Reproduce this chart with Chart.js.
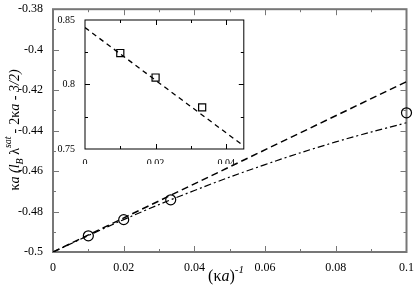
<!DOCTYPE html>
<html>
<head>
<meta charset="utf-8">
<script src="https://cdn.jsdelivr.net/npm/chart.js@4"></script>
<style>
  body { margin: 0; background: #fff; }
  #wrap { position: relative; width: 415px; height: 291px; }
  #main { position: absolute; left: 0; top: 0; }
  #inset { position: absolute; left: 55px; top: 12px; }
</style>
</head>
<body>
<div id="wrap">
  <canvas id="main" width="415" height="291"></canvas>
  <canvas id="inset" width="195" height="152"></canvas>
</div>
<script>
// main plot data
const circleX = [0.01, 0.02, 0.0333, 0.1];
const circleY = [-0.492, -0.484, -0.4742, -0.4312];
const dashX = [0, 0.1];
const dashY = [-0.5, -0.4158];
const dashDotX = [0, 0.02, 0.04, 0.06, 0.08, 0.1];
const dashDotY = [-0.5, -0.4840, -0.4696, -0.4568, -0.4456, -0.4361];
const xTicks = [0, 0.02, 0.04, 0.06, 0.08, 0.1];
const xTickLabels = ["0", "0.02", "0.04", "0.06", "0.08", "0.1"];
const yTicks = [-0.5, -0.48, -0.46, -0.44, -0.42, -0.4, -0.38];
const yTickLabels = ["-0.5", "-0.48", "-0.46", "-0.44", "-0.42", "-0.4", "-0.38"];

// inset data
const squareX = [0.01, 0.02, 0.0332];
const squareY = [0.8244, 0.8054, 0.7823];
const insetLineX = [0, 0.045];
const insetLineY = [0.8441, 0.7523];
const insetXTicks = [0, 0.02, 0.04];
const insetXTickLabels = ["0", "0.02", "0.04"];
const insetYTicks = [0.75, 0.8, 0.85];
const insetYTickLabels = ["0.75", "0.8", "0.85"];

const serif = "'Liberation Serif', 'DejaVu Serif', serif";

function pts(xs, ys) {
    return xs.map((x, i) => ({ x: x, y: ys[i] }));
}

// draw a run of text pieces (italic, sub/superscripts) centered on x
function drawRich(ctx, parts, x, y) {
    let total = 0;
    for (const p of parts) {
        ctx.font = (p.italic ? "italic " : "") + p.size + "px " + serif;
        p.w = ctx.measureText(p.t).width + (p.gap || 0);
        total += p.w;
    }
    let cx = x - total / 2;
    ctx.textBaseline = "alphabetic";
    ctx.textAlign = "left";
    for (const p of parts) {
        ctx.font = (p.italic ? "italic " : "") + p.size + "px " + serif;
        ctx.fillText(p.t, cx, y + (p.dy || 0));
        cx += p.w;
    }
}

// frame plus inward ticks on all four sides
function frameTicks(opts) {
    return {
        id: "frameTicks",
        beforeDatasetsDraw(chart) {
            const ctx = chart.ctx;
            const a = chart.chartArea;
            const xs = chart.scales.x, ys = chart.scales.y;
            ctx.save();
            if (opts.fill) {
                ctx.fillStyle = "#fff";
                ctx.fillRect(a.left, a.top, a.right - a.left, a.bottom - a.top);
            }
            ctx.strokeStyle = opts.color;
            ctx.lineWidth = opts.width;
            ctx.strokeRect(a.left, a.top, a.right - a.left, a.bottom - a.top);
            ctx.lineWidth = 1;
            ctx.beginPath();
            const n = Math.round((xs.max - xs.min) / opts.xMinor);
            for (let i = 0; i <= n; i++) {
                const v = xs.min + i * opts.xMinor;
                const major = Math.abs(v / opts.xMajor - Math.round(v / opts.xMajor)) < 1e-6;
                const len = major ? opts.major : opts.minor;
                const px = Math.round(xs.getPixelForValue(v)) + 0.5;
                if (px <= a.left + 1 || px >= a.right - 1) continue;
                ctx.moveTo(px, a.bottom); ctx.lineTo(px, a.bottom - len);
                ctx.moveTo(px, a.top); ctx.lineTo(px, a.top + len);
            }
            const m = Math.round((ys.max - ys.min) / opts.yMinor);
            for (let i = 0; i <= m; i++) {
                const v = ys.min + i * opts.yMinor;
                const r = (v - ys.min) / opts.yMajor;
                const major = Math.abs(r - Math.round(r)) < 1e-6;
                const len = major ? opts.major : opts.minor;
                const py = Math.round(ys.getPixelForValue(v)) + 0.5;
                if (py <= a.top + 1 || py >= a.bottom - 1) continue;
                ctx.moveTo(a.left, py); ctx.lineTo(a.left + len, py);
                ctx.moveTo(a.right, py); ctx.lineTo(a.right - len, py);
            }
            ctx.stroke();
            ctx.restore();
        }
    };
}

const titles = {
    id: "titles",
    afterDraw(chart) {
        const ctx = chart.ctx;
        ctx.save();
        ctx.fillStyle = "#000";
        drawRich(ctx, [
            { t: "(\u03BA", size: 16 },
            { t: "a", size: 16, italic: true },
            { t: ")", size: 16 },
            { t: "-1", size: 11, italic: true, dy: -8 }
        ], 226, 281);
        ctx.translate(19, 130);
        ctx.rotate(-Math.PI / 2);
        drawRich(ctx, [
            { t: "\u03BA", size: 14 },
            { t: "a (l", size: 14, italic: true },
            { t: "B", size: 10, italic: true, dy: 4 },
            { t: " \u03BB", size: 14 },
            { t: "sat", size: 10, italic: true, dy: -8, gap: 3 },
            { t: "-", size: 14, gap: 4 },
            { t: "2\u03BA", size: 14 },
            { t: "a - 3/2)", size: 14, italic: true }
        ], 0, 0);
        ctx.restore();
    }
};

function fixedTicks(values) {
    return function (scale) {
        scale.ticks = values.map(v => ({ value: v }));
    };
}

new Chart(document.getElementById("main"), {
    type: "scatter",
    data: {
        datasets: [{
            data: pts(dashX, dashY),
            showLine: true,
            borderColor: "#000",
            borderWidth: 1.5,
            borderDash: [7, 4],
            pointRadius: 0
        }, {
            data: pts(dashDotX, dashDotY),
            showLine: true,
            borderColor: "#000",
            borderWidth: 1.2,
            borderDash: [7, 3, 2, 3],
            pointRadius: 0,
            tension: 0.4
        }, {
            data: pts(circleX, circleY),
            showLine: false,
            pointStyle: "circle",
            pointRadius: 5,
            borderColor: "#000",
            borderWidth: 1.2,
            backgroundColor: "rgba(0,0,0,0)",
            clip: false
        }]
    },
    options: {
        responsive: false,
        animation: false,
        devicePixelRatio: 1,
        layout: { padding: { top: 6, right: 8, left: 0, bottom: 0 } },
        plugins: { legend: { display: false }, tooltip: { enabled: false } },
        scales: {
            x: {
                type: "linear", min: 0, max: 0.1,
                grid: { display: false }, border: { display: false },
                afterBuildTicks: fixedTicks(xTicks),
                afterFit(s) { s.height = 39; },
                ticks: {
                    padding: 1, color: "#000", maxRotation: 0,
                    font: { family: serif, size: 12 },
                    callback: (v, i) => xTickLabels[i]
                }
            },
            y: {
                type: "linear", min: -0.5, max: -0.38,
                grid: { display: false }, border: { display: false },
                afterBuildTicks: fixedTicks(yTicks),
                afterFit(s) { s.width = 53; },
                ticks: {
                    padding: 2, color: "#000",
                    font: { family: serif, size: 12 },
                    callback: (v, i) => yTickLabels[i]
                }
            }
        }
    },
    plugins: [frameTicks({ color: "#777", width: 2, major: 6, minor: 3,
        xMajor: 0.02, xMinor: 0.01, yMajor: 0.02, yMinor: 0.01 }), titles]
});

new Chart(document.getElementById("inset"), {
    type: "scatter",
    data: {
        datasets: [{
            data: pts(insetLineX, insetLineY),
            showLine: true,
            borderColor: "#000",
            borderWidth: 1.3,
            borderDash: [5, 4],
            pointRadius: 0
        }, {
            data: pts(squareX, squareY),
            showLine: false,
            pointStyle: "rect",
            pointRadius: 5,
            borderColor: "#000",
            borderWidth: 1.2,
            backgroundColor: "rgba(0,0,0,0)"
        }]
    },
    options: {
        responsive: false,
        animation: false,
        devicePixelRatio: 1,
        layout: { padding: { top: 7, right: 4, left: 0, bottom: 0 } },
        plugins: { legend: { display: false }, tooltip: { enabled: false } },
        scales: {
            x: {
                type: "linear", min: 0, max: 0.045,
                grid: { display: false }, border: { display: false },
                afterBuildTicks: fixedTicks(insetXTicks),
                afterFit(s) { s.height = 15; },
                ticks: {
                    padding: 0, color: "#000", maxRotation: 0,
                    font: { family: serif, size: 10 },
                    callback: (v, i) => insetXTickLabels[i]
                }
            },
            y: {
                type: "linear", min: 0.75, max: 0.85,
                grid: { display: false }, border: { display: false },
                afterBuildTicks: fixedTicks(insetYTicks),
                afterFit(s) { s.width = 30; },
                ticks: {
                    padding: 2, color: "#000",
                    font: { family: serif, size: 10 },
                    callback: (v, i) => insetYTickLabels[i]
                }
            }
        }
    },
    plugins: [frameTicks({ color: "#000", width: 1, fill: true, major: 5, minor: 3,
        xMajor: 0.02, xMinor: 0.01, yMajor: 0.05, yMinor: 0.025 })]
});
</script>
</body>
</html>
